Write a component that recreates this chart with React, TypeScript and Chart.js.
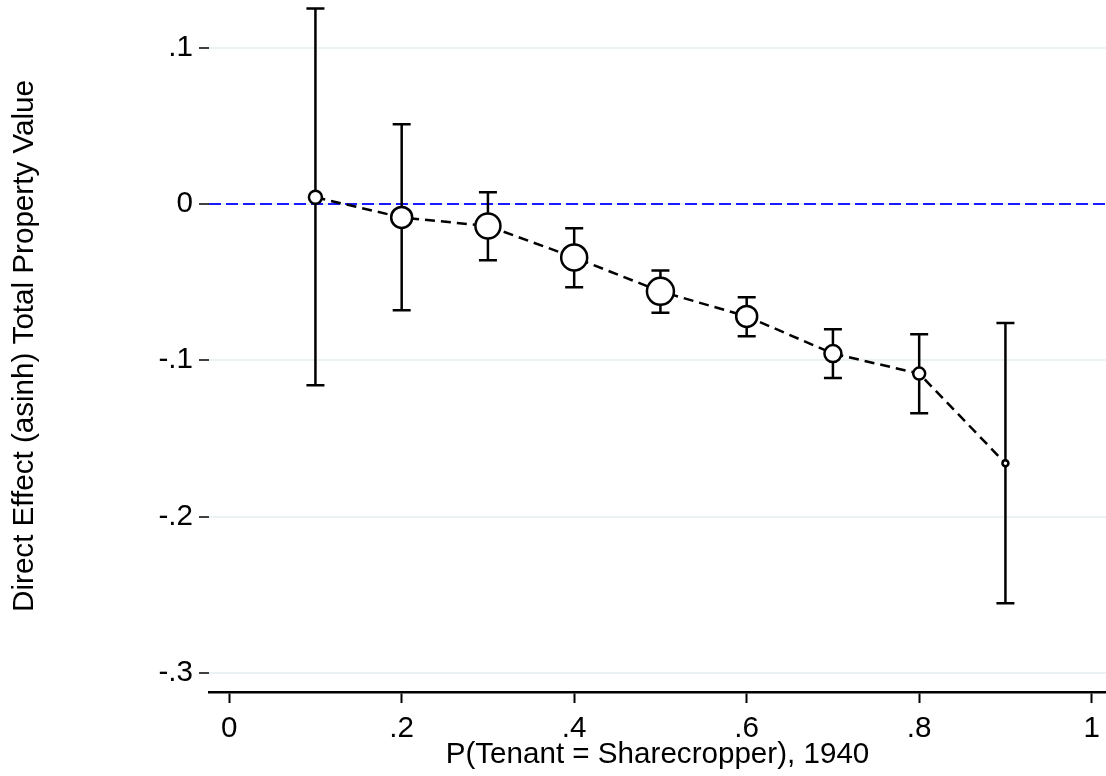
import { useEffect, useRef } from "react";
import { Chart, LineController, registerables } from "chart.js";

// line controller that does not pad the chart area for marker overflow
class FlatLineController extends LineController {
  static id = "flatLine";
  static defaults = LineController.defaults;
  static overrides = LineController.overrides;
  getMaxOverflow() {
    return 0;
  }
}

Chart.register(...registerables, FlatLineController);

// binned share of sharecroppers
const shareBins = [0.1, 0.2, 0.3, 0.4, 0.5, 0.6, 0.7, 0.8, 0.9];
const effect = [0.0043, -0.0086, -0.0141, -0.0342, -0.0559, -0.0719, -0.0957, -0.1085, -0.1659];
const ciLow = [-0.116, -0.068, -0.036, -0.0533, -0.0696, -0.0846, -0.1113, -0.1338, -0.2554];
const ciHigh = [0.125, 0.051, 0.0075, -0.0156, -0.0426, -0.0597, -0.0801, -0.0833, -0.0762];
// marker radius, scaled to bin size in the source figure
const markerRadius = [6.5, 10.5, 12.5, 13, 13.5, 10.5, 8.5, 6, 3];

const xTicks = [0, 0.2, 0.4, 0.6, 0.8, 1];
const xTickLabels = ["0", ".2", ".4", ".6", ".8", "1"];
const yTicks = [0.1, 0, -0.1, -0.2, -0.3];
const yTickLabels = [".1", "0", "-.1", "-.2", "-.3"];
const refLineY = 0;

const FONT = "'Liberation Sans', Arial, Helvetica, sans-serif";
const FS = 29.6;

const errorBars = {
  id: "errorBars",
  beforeDatasetsDraw(chart: Chart) {
    const { ctx, chartArea, scales } = chart;
    const xs = scales.x;
    const ys = scales.y;
    ctx.save();

    // zero reference line
    const y0 = ys.getPixelForValue(refLineY);
    ctx.strokeStyle = "#1a1aff";
    ctx.lineWidth = 2.2;
    ctx.setLineDash([12, 5]);
    ctx.beginPath();
    ctx.moveTo(chartArea.left, y0);
    ctx.lineTo(chartArea.right, y0);
    ctx.stroke();

    ctx.setLineDash([]);
    ctx.strokeStyle = "#000";
    ctx.lineWidth = 2.5;
    const cap = 9;
    shareBins.forEach((b, i) => {
      const x = xs.getPixelForValue(b);
      const lo = ys.getPixelForValue(ciLow[i]);
      const hi = ys.getPixelForValue(ciHigh[i]);
      ctx.beginPath();
      ctx.moveTo(x, lo);
      ctx.lineTo(x, hi);
      ctx.moveTo(x - cap, lo);
      ctx.lineTo(x + cap, lo);
      ctx.moveTo(x - cap, hi);
      ctx.lineTo(x + cap, hi);
      ctx.stroke();
    });
    ctx.restore();
  },
};

export default function App() {
  const canvasRef = useRef<HTMLCanvasElement>(null);
  const chartRef = useRef<Chart | null>(null);

  useEffect(() => {
    document.body.style.margin = "0";
    if (!canvasRef.current) return;
    chartRef.current?.destroy();
    chartRef.current = new Chart(canvasRef.current, {
      type: "flatLine" as any,
      data: {
        datasets: [
          {
            data: shareBins.map((b, i) => ({ x: b, y: effect[i] })),
            borderColor: "#000",
            borderWidth: 2.5,
            borderDash: [10, 6],
            pointRadius: markerRadius,
            pointHoverRadius: markerRadius,
            pointBackgroundColor: "#fff",
            pointBorderColor: "#000",
            pointBorderWidth: 2.5,
            tension: 0,
            clip: false,
          },
        ],
      },
      options: {
        animation: false,
        responsive: true,
        maintainAspectRatio: false,
        layout: { padding: 0 },
        plugins: { legend: { display: false }, tooltip: { enabled: false } },
        scales: {
          x: {
            type: "linear",
            min: -0.0234,
            max: 1.0166,
            afterBuildTicks: (s: any) => {
              s.ticks = xTicks.map((v) => ({ value: v }));
            },
            afterFit: (s: any) => {
              s.height = 84;
              s.paddingLeft = 0;
              s.paddingRight = 0;
            },
            ticks: {
              font: { family: FONT, size: FS },
              color: "#000",
              padding: 8,
              maxRotation: 0,
              callback: (v: any) => xTickLabels[xTicks.indexOf(Number(v))] ?? "",
            },
            grid: { drawOnChartArea: false, tickLength: 11, tickColor: "#000", tickWidth: 2 },
            border: { color: "#000", width: 2.5 },
            title: {
              display: true,
              text: "P(Tenant = Sharecropper), 1940",
              font: { family: FONT, size: FS },
              color: "#000",
              padding: { top: 0, bottom: 3 },
            },
          },
          y: {
            type: "linear",
            min: -0.3122,
            max: 0.1305,
            afterBuildTicks: (s: any) => {
              s.ticks = yTicks.map((v) => ({ value: v }));
            },
            afterFit: (s: any) => {
              s.width = 209;
              s.paddingTop = 0;
              s.paddingBottom = 0;
            },
            ticks: {
              font: { family: FONT, size: FS },
              color: "#000",
              padding: 6,
              callback: (v: any) => yTickLabels[yTicks.indexOf(Number(v))] ?? "",
            },
            grid: { color: "#eaf2f3", lineWidth: 2, tickLength: 10, tickColor: "#000", tickWidth: 1.5 },
            border: { display: false },
            title: {
              display: true,
              text: "Direct Effect (asinh) Total Property Value",
              font: { family: FONT, size: FS },
              color: "#000",
              padding: { top: 7, bottom: 0 },
            },
          },
        },
      },
      plugins: [errorBars],
    });
    return () => chartRef.current?.destroy();
  }, []);

  return (
    <div style={{ width: 1106, height: 776, background: "#fff" }}>
      <canvas ref={canvasRef} />
    </div>
  );
}
